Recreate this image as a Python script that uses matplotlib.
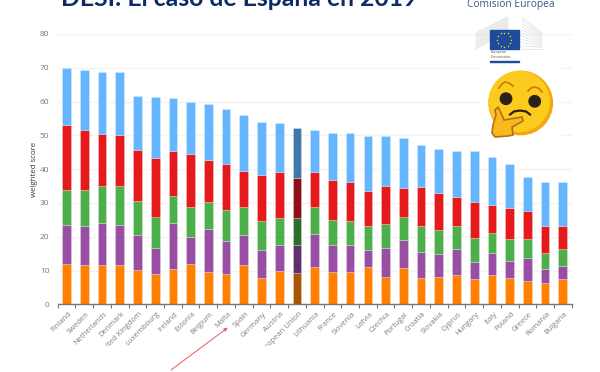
import numpy as np
import matplotlib
matplotlib.use("Agg")
import matplotlib.pyplot as plt
from matplotlib.patches import Circle, Rectangle, Polygon

countries = ["Finland","Sweden","Netherlands","Denmark","United Kingdom","Luxembourg","Ireland","Estonia","Belgium","Malta","Spain","Germany","Austria","European Union","Lithuania","France","Slovenia","Latvia","Czechia","Portugal","Croatia","Slovakia","Cyprus","Hungary","Italy","Poland","Greece","Romania","Bulgaria"]
# cumulative tops
orange_top = [11.9,11.5,11.6,11.7,10.1,8.9,10.3,11.9,9.7,8.9,11.7,7.7,9.9,9.4,10.9,9.6,9.6,10.9,8.2,10.6,7.8,8.0,8.7,7.4,8.7,7.8,6.9,6.4,7.6]
purple_top = [23.5,23.05,24.1,23.6,20.4,16.6,24.0,19.8,22.2,18.6,20.6,16.0,17.5,17.6,20.8,17.5,17.5,16.0,16.7,19.1,15.6,14.8,16.3,12.5,15.2,12.7,13.6,10.3,11.2]
green_top = [33.9,33.9,35.0,35.0,30.5,25.9,32.2,28.9,30.4,27.9,28.7,24.8,25.4,25.6,28.7,25.0,24.6,23.3,23.9,25.8,23.1,22.0,23.1,19.7,21.0,19.2,19.2,15.3,16.3]
red_top = [53.1,51.7,50.5,50.2,45.7,43.4,45.4,44.5,42.6,41.5,39.6,38.4,39.1,37.5,39.1,36.7,36.1,33.5,35.0,34.5,34.7,33.0,31.7,30.2,29.3,28.5,27.6,23.1,23.2]
blue_top = [69.9,69.4,68.9,68.7,61.7,61.5,61.1,59.8,59.2,57.8,55.9,54.1,53.6,52.3,51.7,50.8,50.6,49.8,49.8,49.1,47.1,46.1,45.5,45.3,43.7,41.4,37.8,36.3,36.1]
yticks = [0,10,20,30,40,50,60,70,80]
colors = ["#ff7f00","#984ea3","#4daf4a","#e41a1c","#66b5ff"]
eu_colors = ["#a85400","#5f2f6b","#2f6d2e","#8e1015","#4079a8"]

plt.rcParams["font.family"] = ["Open Sans","DejaVu Sans"]
W,H = 600,372
fig = plt.figure(figsize=(6,3.72),dpi=100)
ax = fig.add_axes([57.7/W,1-304.3/H,(571.7-57.7)/W,(304.3-34)/H])
x = np.arange(len(countries))
tops = [orange_top,purple_top,green_top,red_top,blue_top]
bottom = np.zeros(len(x))
eu = countries.index("European Union")
for t,c,ec in zip(tops,colors,eu_colors):
    t = np.array(t)
    cols = [ec if i==eu else c for i in x]
    ax.bar(x,t-bottom,0.49,bottom=bottom,color=cols,edgecolor="#ffffff70",linewidth=0.4,zorder=3)
    bottom = t
ax.set_xlim(-0.5,len(x)-0.5)
ax.set_ylim(0,80)
ax.set_yticks(yticks)
ax.grid(axis="y",color="#f3f3f3",lw=1,zorder=0)
for s in ["top","right","left"]:
    ax.spines[s].set_visible(False)
ax.spines["bottom"].set_color("#777777")
ax.spines["bottom"].set_linewidth(1)
ax.spines["bottom"].set_zorder(5)
ax.set_xticks(np.arange(-0.5,len(x),1),minor=False)
ax.set_xticklabels([])
ax.tick_params(axis="x",length=3,color="#777777",width=0.8)
ax.tick_params(axis="y",length=0,labelsize=6,labelcolor="#777777",pad=6)
for i,n in zip(x,countries):
    ax.annotate(n,(i,0),xytext=(1,-4.5),textcoords="offset points",rotation=45,ha="right",va="top",
                rotation_mode="anchor",fontsize=5.5,color="#808080",annotation_clip=False)
ax.set_ylabel("weighted score",fontsize=5.7,color="#333333",labelpad=1.5)

# overlay in pixel coordinates
ov = fig.add_axes([0,0,1,1],zorder=10)
ov.set_xlim(0,W); ov.set_ylim(H,0); ov.axis("off"); ov.patch.set_alpha(0)
ov.add_patch(Rectangle((0,346),W,H-346,color="white",zorder=0.5))
ov.text(61,5.5,"DESI: El caso de España en 2019",fontsize=17.8,fontweight="bold",color="#0b2a66",va="baseline",ha="left",family="Lato")
ov.text(467,4.5,"Comisión Europea",fontsize=7.4,color="#3f5585",va="center",ha="left")
ov.add_patch(Rectangle((482,67),78,73,color="white",zorder=1))
# logo
for k in range(11):
    f = k/10
    ov.plot([476,508],[33+f*16,17+f*13],color="#dcdcdc",lw=0.5,zorder=2)
    ov.plot([522,542],[17+f*32,33+f*16],color="#dcdcdc",lw=0.5,zorder=2)
ov.add_patch(Rectangle((489.5,30),29,19,color="#1f4b9c",zorder=3))
a = np.linspace(0,2*np.pi,12,endpoint=False)
ov.scatter(504+7*np.cos(a),39.5+7*np.sin(a),s=1.2,color="#f5d31c",zorder=4,linewidths=0)
ov.text(491,52.5,"European",fontsize=2.6,color="#555555",va="center",zorder=4)
ov.text(491,57,"Commission",fontsize=2.6,color="#555555",va="center",zorder=4)
ov.add_patch(Rectangle((489.5,60.5),29,1.2,color="#1f4b9c",zorder=4))
# emoji
cx,cy = 520.7,103
ov.add_patch(Circle((cx,cy),31.7,color="#f4a80f",zorder=3))
ov.add_patch(Circle((cx-1.5,cy-1.5),30,color="#fccb1d",zorder=3))
ov.add_patch(Circle((506,98.7),5.7,color="#2b2118",zorder=4))
ov.add_patch(Circle((534.7,101.3),5.7,color="#2b2118",zorder=4))
ov.plot([499,502,505,509,513],[88,84,82,83,86],color="#c77a10",lw=1.2,zorder=4)
ov.plot([528,531,535,539,542],[91,88,87,88.5,92],color="#c77a10",lw=1.2,zorder=4)
ov.plot([510,514,520,526,530],[114.5,111.5,110.5,111.5,114.5],color="#2b2118",lw=1.6,zorder=4)
ov.add_patch(Polygon([(498,107),(501,113),(504,120),(522,117),(523,121),(512,127),(513,135),(508,136),(495,137),(492,133),(493,125),(496,115),(495,110)],
             closed=True,facecolor="#f9b91a",edgecolor="#b3701c",lw=1.2,zorder=5))
# arrow
ov.annotate("",xy=(227.7,327.7),xytext=(171,370),arrowprops=dict(arrowstyle="-|>",color="#f0555a",lw=0.7,mutation_scale=5,shrinkA=0,shrinkB=0),zorder=6)
fig.savefig("out.png",dpi=100)
